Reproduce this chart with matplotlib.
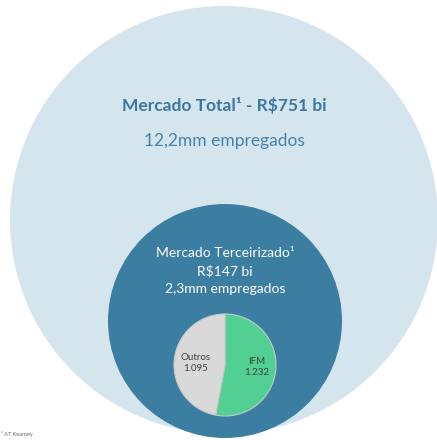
import matplotlib.pyplot as plt
from matplotlib.patches import Circle

plt.rcParams['font.family'] = ['Lato', 'DejaVu Sans']

# market figures
total_label = "Mercado Total\u00b9 - R$751 bi"
total_jobs = "12,2mm empregados"
outsourced_lines = ["Mercado Terceirizado\u00b9", "R$147 bi", "2,3mm empregados"]
pie_names = ["IFM", "Outros"]
pie_values = [1232, 1095]
pie_text = ["1.232", "1.095"]
pie_colors = ["#52cf93", "#d9d9d9"]
source_note = "\u00b9 AT Kearney"

W, H = 437, 440
fig = plt.figure(figsize=(W / 100, H / 100), dpi=100)
ax = fig.add_axes([0, 0, 1, 1])

# outer circle: whole market
ax.add_patch(Circle((224, H - 220), 214, color="#d5e5ee", lw=0))
# inner circle: outsourced market
ax.add_patch(Circle((225, H - 321), 117, color="#3c7ea2", lw=0))

# IFM vs others split
wedges, _ = ax.pie(pie_values, colors=pie_colors, startangle=90, counterclock=False,
                   center=(225, H - 365), radius=51,
                   wedgeprops=dict(linewidth=0.8, edgecolor="#c8c8c8"))

ax.text(224, H - 105, total_label, ha="center", va="center", fontsize=12.5,
        fontweight="bold", color="#3b77a0")
ax.text(224, H - 141, total_jobs, ha="center", va="center", fontsize=12.5,
        color="#4683ab")

for i, line in enumerate(outsourced_lines):
    ax.text(225, H - 253 - i * 18, line, ha="center", va="center", fontsize=10,
            color="white")

ax.text(196, H - 363, pie_names[1] + "\n" + pie_text[1], ha="center", va="center",
        fontsize=7, color="#404040", linespacing=1.4)
ax.text(257, H - 367, pie_names[0] + "\n" + pie_text[0], ha="center", va="center",
        fontsize=7, color="#404040", linespacing=1.4)

ax.text(1, H - 434, source_note, ha="left", va="center", fontsize=4, color="#666666")

ax.set_xlim(0, W)
ax.set_ylim(0, H)
ax.set_aspect("auto")
ax.axis("off")

fig.savefig("out.png", dpi=100)
